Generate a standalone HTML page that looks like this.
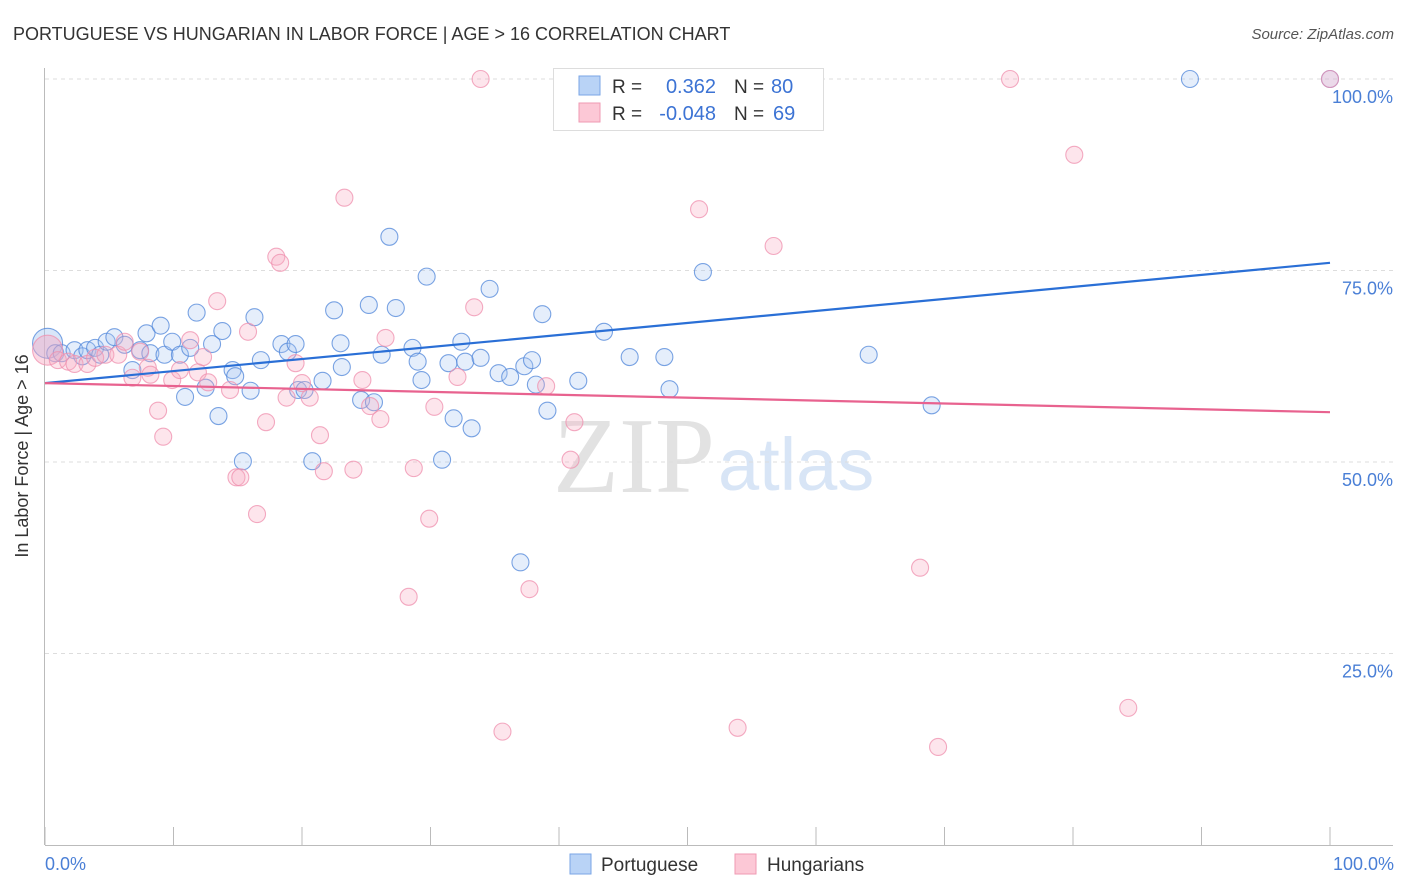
<!DOCTYPE html>
<html><head><meta charset="utf-8"><style>
body{margin:0;background:#fff;font-family:"Liberation Sans",sans-serif}
svg{display:block}
</style></head><body>
<svg id="chart" width="1406" height="892">
<text x="13" y="40" font-size="18" fill="#333">PORTUGUESE VS HUNGARIAN IN LABOR FORCE | AGE &gt; 16 CORRELATION CHART</text>
<text x="1394" y="39" font-size="15" fill="#555" text-anchor="end" font-style="italic">Source: ZipAtlas.com</text>
<text x="715" y="492" font-size="108" fill="#e2e2e2" text-anchor="end" font-family="Liberation Serif,serif">ZIP</text>
<text x="718" y="490" font-size="74" fill="#d8e5f6">atlas</text>
<g id="grid"></g><g id="axes"></g><g id="marks"></g>
<text x="28" y="456" font-size="18" fill="#333" text-anchor="middle" transform="rotate(-90 28 456)">In Labor Force | Age &gt; 16</text>
<text x="45" y="870" font-size="18" fill="#4a7fd6">0.0%</text>
<text x="1394" y="870" font-size="18" fill="#4a7fd6" text-anchor="end">100.0%</text>
<g>
<rect x="553.5" y="68.5" width="270" height="62" fill="#fff" stroke="#ddd"/>
<rect x="579" y="76" width="21" height="19" fill="#b9d3f6" stroke="#7aa6e6"/>
<rect x="579" y="103" width="21" height="19" fill="#fcc8d6" stroke="#ef9ab3"/>
<text x="612" y="93" font-size="19" fill="#333">R = </text><text x="716" y="93" font-size="20" fill="#3c73d4" text-anchor="end">0.362</text>
<text x="734" y="93" font-size="19" fill="#333">N = </text><text x="771" y="93" font-size="20" fill="#3c73d4">80</text>
<text x="612" y="120" font-size="19" fill="#333">R = </text><text x="716" y="120" font-size="20" fill="#3c73d4" text-anchor="end">-0.048</text>
<text x="734" y="120" font-size="19" fill="#333">N = </text><text x="773" y="120" font-size="20" fill="#3c73d4">69</text>
</g>
<g>
<rect x="570" y="854" width="21" height="20" fill="#b9d3f6" stroke="#7aa6e6"/>
<text x="601" y="871" font-size="19" fill="#333">Portuguese</text>
<rect x="735" y="854" width="21" height="20" fill="#fcc8d6" stroke="#ef9ab3"/>
<text x="767" y="871" font-size="19" fill="#333">Hungarians</text>
</g>
</svg>
<script>
const yTicks=[25,50,75,100];
const yTickLabels=["25.0%","50.0%","75.0%","100.0%"];
const xTicks=[0,10,20,30,40,50,60,70,80,90,100];
const portX=[0.2,0.8,1.3,2.3,2.9,3.3,3.9,4.3,4.8,5.4,6.2,6.8,7.4,7.9,8.2,9.0,9.3,9.9,10.5,10.9,11.3,11.8,12.5,13.0,13.5,13.8,14.6,14.8,15.4,16.0,16.3,16.8,18.4,18.9,19.5,19.7,20.2,20.8,21.6,22.5,23.0,23.1,24.6,25.2,25.6,26.2,26.8,27.3,28.6,29.0,29.3,29.7,30.9,31.4,31.8,32.4,32.7,33.2,33.9,34.6,35.3,36.2,37.0,37.3,37.9,38.2,38.7,39.1,41.5,43.5,45.5,48.2,48.6,51.2,64.1,69.0,89.1,100];
const portY=[65.5,64.2,64.2,64.6,63.8,64.6,64.9,64.0,65.7,66.3,65.3,62.0,64.6,66.8,64.2,67.8,64.0,65.7,64.0,58.5,64.9,69.5,59.7,65.4,56.0,67.1,62.0,61.2,50.1,59.3,68.9,63.3,65.4,64.4,65.4,59.4,59.4,50.1,60.6,69.8,65.5,62.4,58.1,70.5,57.8,64.0,79.4,70.1,64.9,63.1,60.7,74.2,50.3,62.9,55.7,65.7,63.1,54.4,63.6,72.6,61.6,61.1,36.9,62.5,63.3,60.1,69.3,56.7,60.6,67.0,63.7,63.7,59.5,74.8,64.0,57.4,100,100];
const hungX=[0.2,1.0,1.8,2.3,3.3,3.9,4.7,5.7,6.2,6.8,7.4,8.0,8.2,8.8,9.2,9.9,10.5,11.3,11.9,12.3,12.7,13.4,14.4,14.9,15.2,15.8,16.5,17.2,18.0,18.3,18.8,19.5,20.0,20.6,21.4,21.7,23.3,24.0,24.7,25.3,26.1,26.5,28.3,28.7,29.9,30.3,32.1,33.4,33.9,35.6,37.7,39.0,40.9,41.2,50.9,53.9,56.7,68.1,69.5,75.1,80.1,84.3,100];
const hungY=[64.6,63.3,63.1,62.8,62.8,63.6,64.0,64.0,65.7,61.0,64.4,62.3,61.4,56.7,53.3,60.7,62.0,65.9,61.7,63.7,60.4,71.0,59.4,48.0,48.0,67.0,43.2,55.2,76.8,76.0,58.4,62.9,60.3,58.4,53.5,48.8,84.5,49.0,60.7,57.3,55.6,66.2,32.4,49.2,42.6,57.2,61.1,70.2,100,14.8,33.4,59.9,50.3,55.2,83.0,15.3,78.2,36.2,12.8,100,90.1,17.9,100];
const portTrend=[60.3,76.0];
const hungTrend=[60.3,56.5];
const NS="http://www.w3.org/2000/svg";
const X=v=>45+v*12.85, Y=v=>845-v*7.66;
function mk(tag,attrs,parent){const e=document.createElementNS(NS,tag);for(const k in attrs)e.setAttribute(k,attrs[k]);parent.appendChild(e);return e;}
const grid=document.getElementById('grid'),axes=document.getElementById('axes'),marks=document.getElementById('marks');
yTicks.forEach((t,i)=>{
 const l=mk('line',{x1:45,x2:1393,y1:Y(t),y2:Y(t),stroke:'#ddd','stroke-dasharray':'4,4'},grid);
 
 
 const tx=mk('text',{x:1393,y:Y(t)+24,'font-size':18,fill:'#4a7fd6','text-anchor':'end'},grid);
 tx.textContent=yTickLabels[i];
 
 
});
const ax=mk('line',{x1:45,x2:1393,y1:845.5,y2:845.5,stroke:'#bbb'},axes);


const ay=mk('line',{x1:44.5,x2:44.5,y1:68,y2:845,stroke:'#bbb'},axes);


xTicks.forEach(t=>{
 const l=mk('line',{x1:X(t),x2:X(t),y1:827,y2:845,stroke:'#bbb'},axes);
 
 
});
function pts(xs,ys,fill,stroke,name){
 xs.forEach((x,i)=>{
  const big=(i===0);
  const c=mk('circle',{cx:X(x),cy:Y(ys[i]),r:big?15:8.5,fill:fill,stroke:stroke,'stroke-width':1.1,'stroke-opacity':0.75,'fill-opacity':big?0.45:0.3},marks);
  
  
 });
}
pts(portX,portY,'#a8c8f2','#4f86d9','portuguese-point');
pts(hungX,hungY,'#f9a9c0','#ef8fae','hungarian-point');
const t1=mk('line',{x1:X(0),x2:X(100),y1:Y(portTrend[0]),y2:Y(portTrend[1]),stroke:'#2a6fd6','stroke-width':2.2},marks);


const t2=mk('line',{x1:X(0),x2:X(100),y1:Y(hungTrend[0]),y2:Y(hungTrend[1]),stroke:'#e8628f','stroke-width':2.2},marks);


</script>
</body></html>
